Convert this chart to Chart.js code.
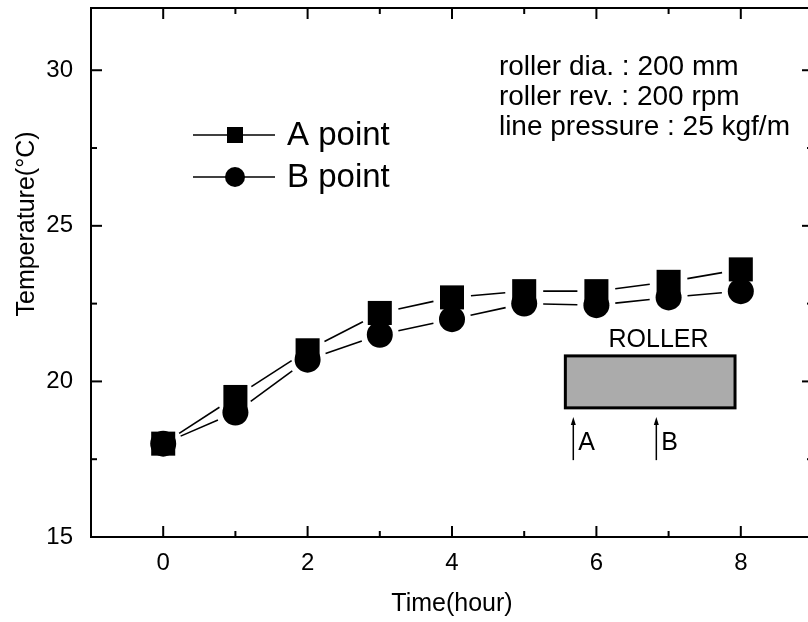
<!DOCTYPE html>
<html>
<head>
<meta charset="utf-8">
<script src="https://cdn.jsdelivr.net/npm/chart.js@4.4.0/dist/chart.umd.min.js"></script>
<style>
  html, body { margin: 0; padding: 0; overflow: hidden; background: #fff; }
  canvas { display: block; }
</style>
</head>
<body>
<canvas id="chart" width="830" height="622"></canvas>
<script>
// data
const hours = [0, 1, 2, 3, 4, 5, 6, 7, 8];
const pointA = [18.0, 19.5, 21.0, 22.2, 22.7, 22.9, 22.9, 23.2, 23.6];
const pointB = [18.0, 19.0, 20.7, 21.5, 22.0, 22.5, 22.45, 22.7, 22.9];

const xTicks = [0, 2, 4, 6, 8];
const xMinor = [1, 3, 5, 7];
const yTicks = [15, 20, 25, 30];
const yMinor = [17.5, 22.5, 27.5];

const notes = ['roller dia. : 200 mm', 'roller rev. : 200 rpm', 'line pressure : 25 kgf/m'];

const FONT = '"Liberation Sans", Arial, Helvetica, sans-serif';

// connecting lines that stop short of the markers
const gapLines = {
    id: 'gapLines',
    beforeDatasetsDraw(chart) {
        const ctx = chart.ctx;
        const gap = 19;
        ctx.save();
        ctx.strokeStyle = '#000';
        ctx.lineWidth = 1.6;
        chart.data.datasets.forEach((ds, i) => {
            const pts = chart.getDatasetMeta(i).data;
            for (let k = 1; k < pts.length; k++) {
                const a = pts[k - 1], b = pts[k];
                const dx = b.x - a.x, dy = b.y - a.y;
                const len = Math.hypot(dx, dy);
                const ux = dx / len, uy = dy / len;
                ctx.beginPath();
                ctx.moveTo(a.x + ux * gap, a.y + uy * gap);
                ctx.lineTo(b.x - ux * gap, b.y - uy * gap);
                ctx.stroke();
            }
        });
        ctx.restore();
    }
};

// frame, inward ticks, legend, notes and the roller sketch
const decorations = {
    id: 'decorations',
    afterDatasetsDraw(chart) {
        const ctx = chart.ctx;
        const { left, right, top, bottom } = chart.chartArea;
        const xs = chart.scales.x, ys = chart.scales.y;
        ctx.save();
        ctx.strokeStyle = '#000';
        ctx.fillStyle = '#000';

        // frame
        ctx.lineWidth = 2;
        ctx.strokeRect(left, top, right - left, bottom - top);

        // ticks pointing in
        const tick = (x1, y1, x2, y2) => {
            ctx.beginPath();
            ctx.moveTo(x1, y1);
            ctx.lineTo(x2, y2);
            ctx.stroke();
        };
        xTicks.forEach(v => {
            const px = xs.getPixelForValue(v);
            tick(px, bottom, px, bottom - 11);
            tick(px, top, px, top + 11);
        });
        xMinor.forEach(v => {
            const px = xs.getPixelForValue(v);
            tick(px, bottom, px, bottom - 6);
            tick(px, top, px, top + 6);
        });
        yTicks.forEach(v => {
            const py = ys.getPixelForValue(v);
            tick(left, py, left + 11, py);
            tick(right, py, right - 11, py);
        });
        yMinor.forEach(v => {
            const py = ys.getPixelForValue(v);
            tick(left, py, left + 6, py);
            tick(right, py, right - 6, py);
        });

        // y axis title
        ctx.save();
        ctx.translate(27, 224);
        ctx.rotate(-Math.PI / 2);
        ctx.font = '25px ' + FONT;
        ctx.textAlign = 'center';
        ctx.textBaseline = 'middle';
        ctx.fillText('Temperature(°C)', 0, 0);
        ctx.restore();

        // legend
        const legendRows = [
            { label: chart.data.datasets[0].label, style: 'rect', y: 135 },
            { label: chart.data.datasets[1].label, style: 'circle', y: 177 }
        ];
        legendRows.forEach(r => {
            ctx.lineWidth = 1.6;
            tick(193, r.y, 275, r.y);
            ctx.beginPath();
            if (r.style === 'rect') {
                ctx.rect(227, r.y - 8, 16, 16);
            } else {
                ctx.arc(235, r.y, 10, 0, Math.PI * 2);
            }
            ctx.fill();
            ctx.font = '33px ' + FONT;
            ctx.textAlign = 'left';
            ctx.textBaseline = 'middle';
            ctx.fillText(r.label, 287, r.y + 1);
        });

        // test conditions
        ctx.font = '28px ' + FONT;
        ctx.textAlign = 'left';
        ctx.textBaseline = 'alphabetic';
        const nx = xs.getPixelForValue(4.65);
        const ny = ys.getPixelForValue(29.85);
        notes.forEach((t, i) => ctx.fillText(t, nx, ny + i * 30));

        // roller sketch
        const bx1 = xs.getPixelForValue(5.57), bx2 = xs.getPixelForValue(7.92);
        const by1 = ys.getPixelForValue(20.82), by2 = ys.getPixelForValue(19.15);
        ctx.fillStyle = '#ababab';
        ctx.fillRect(bx1, by1, bx2 - bx1, by2 - by1);
        ctx.lineWidth = 3;
        ctx.strokeRect(bx1, by1, bx2 - bx1, by2 - by1);
        ctx.fillStyle = '#000';
        ctx.font = '25px ' + FONT;
        ctx.textAlign = 'center';
        ctx.fillText('ROLLER', xs.getPixelForValue(6.86), ys.getPixelForValue(21.1));

        [['A', 5.68], ['B', 6.83]].forEach(([lab, v]) => {
            const ax = xs.getPixelForValue(v);
            const ay1 = ys.getPixelForValue(18.86), ay2 = ys.getPixelForValue(17.47);
            ctx.lineWidth = 1.5;
            tick(ax, ay1 + 6, ax, ay2);
            ctx.beginPath();
            ctx.moveTo(ax, ay1);
            ctx.lineTo(ax - 2.5, ay1 + 8);
            ctx.lineTo(ax + 2.5, ay1 + 8);
            ctx.closePath();
            ctx.fill();
            ctx.textAlign = 'left';
            ctx.font = '25px ' + FONT;
            ctx.fillText(lab, ax + 5, ys.getPixelForValue(17.8));
        });

        ctx.restore();
    }
};

const ctx = document.getElementById('chart');

new Chart(ctx, {
    type: 'line',
    data: {
        datasets: [{
            label: 'A point',
            data: hours.map((h, i) => ({ x: h, y: pointA[i] })),
            showLine: false,
            pointStyle: 'rect',
            pointRadius: 17,
            pointBackgroundColor: '#000',
            pointBorderWidth: 0,
            borderColor: '#000'
        }, {
            label: 'B point',
            data: hours.map((h, i) => ({ x: h, y: pointB[i] })),
            showLine: false,
            pointStyle: 'circle',
            pointRadius: 13,
            pointBackgroundColor: '#000',
            pointBorderWidth: 0,
            borderColor: '#000'
        }]
    },
    options: {
        responsive: false,
        animation: false,
        layout: { autoPadding: false, padding: { top: 8, right: 17, left: 0, bottom: 0 } },
        plugins: {
            legend: { display: false },
            tooltip: { enabled: false }
        },
        scales: {
            x: {
                type: 'linear',
                min: -1,
                max: 9,
                afterBuildTicks: s => { s.ticks = xTicks.map(v => ({ value: v })); },
                afterFit: s => { s.height = 85; s.paddingLeft = 0; s.paddingRight = 0; },
                grid: { display: false },
                border: { display: false },
                ticks: { color: '#000', font: { family: FONT, size: 24 }, padding: 4, maxRotation: 0 },
                title: {
                    display: true,
                    text: 'Time(hour)',
                    color: '#000',
                    font: { family: FONT, size: 25 },
                    padding: { top: 0, bottom: 3 }
                }
            },
            y: {
                type: 'linear',
                min: 15,
                max: 32,
                afterBuildTicks: s => { s.ticks = yTicks.map(v => ({ value: v })); },
                afterFit: s => { s.width = 91; s.paddingTop = 0; s.paddingBottom = 0; },
                grid: { display: false },
                border: { display: false },
                ticks: { color: '#000', font: { family: FONT, size: 24 }, padding: 10 }
            }
        }
    },
    plugins: [gapLines, decorations]
});
</script>
</body>
</html>
